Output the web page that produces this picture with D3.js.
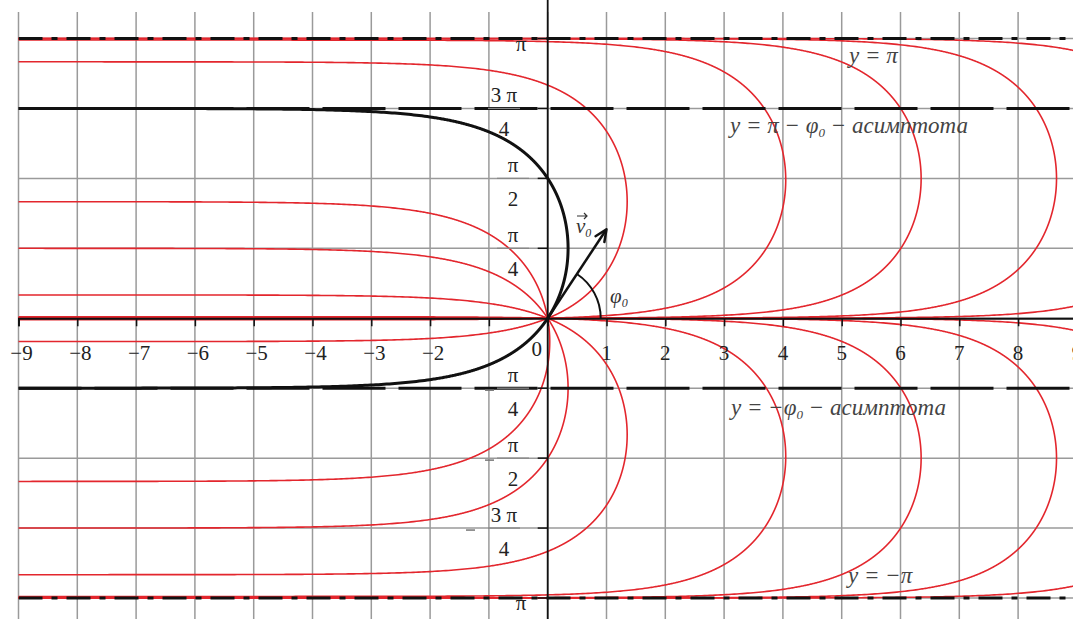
<!DOCTYPE html>
<html><head><meta charset="utf-8">
<script src="https://cdn.jsdelivr.net/npm/d3@7"></script>
<style>
html,body{margin:0;padding:0;background:#fff;}
svg text{font-family:"Liberation Serif","DejaVu Serif",serif;}
</style></head>
<body>
<svg id="c" width="1073" height="619"></svg>
<script>
// ---------- data ----------
const PI = Math.PI;
const SERIF = "Liberation Serif, DejaVu Serif, serif";
const xTickValues = [-9,-8,-7,-6,-5,-4,-3,-2,-1,0,1,2,3,4,5,6,7,8,9];
const xTickLabels = ["−9","−8","−7","−6","−5","−4","−3","−2","","0","1","2","3","4","5","6","7","8","9"];
const yTickValues = [PI, 3*PI/4, PI/2, PI/4, 0, -PI/4, -PI/2, -3*PI/4, -PI];
const yTickNum = ["π","3 π","π","π","0","π","π","3 π","π"];
const yTickDen = [null,"4","2","4",null,"4","2","4",null];
const yTickNeg = [false,false,false,false,false,true,true,true,true];
// initial angles (degrees) of the red family of trajectories
const redPhiDeg = [15, 1, 0.1, 0.01, 0.001, 105, 135, 165, 179, 179.9, 179.99, 179.999];
// highlighted trajectory (black)
const blackPhiDeg = [45];
// horizontal reference lines
const dashDotLines = [PI, -PI];
const asymptoteLines = [3*PI/4, -PI/4];
// velocity vector end (data units)
const v0End = [1, 1];

// ---------- scales ----------
const svg = d3.select("#c");
const x = d3.scaleLinear().domain([-9, 9]).range([18.5, 18.5 + 18*58.8]);
const y = d3.scaleLinear().domain([-PI, PI]).range([598, 38.5]);
const X0 = x(-9), X1 = 1073;

svg.append("defs").append("clipPath").attr("id","clip")
  .append("rect").attr("x", X0).attr("y", 0).attr("width", X1 - X0).attr("height", 619);

// ---------- grid ----------
const grid = svg.append("g").attr("stroke", "#9a9a9a").attr("stroke-width", 1.5);
grid.selectAll("line.v").data(xTickValues).join("line")
  .attr("x1", d => x(d)).attr("x2", d => x(d))
  .attr("y1", y(3.44)).attr("y2", 619);
grid.selectAll("line.h").data(yTickValues).join("line")
  .attr("x1", X0).attr("x2", X1)
  .attr("y1", d => y(d)).attr("y2", d => y(d));

// ---------- curves ----------
function trajectory(phiDeg) {
  const phi = phiDeg * PI / 180;
  const sphi = Math.sin(phi);
  const pts = [];
  const small = d3.range(-13, -1, 0.02).map(k => Math.pow(10, k));
  small.forEach(s => pts.push({t: s, s: s}));
  d3.range(0.1, PI - 0.1, 0.002).forEach(t => pts.push({t: t, s: Math.sin(t)}));
  small.slice().reverse().forEach(u => pts.push({t: PI - u, s: u}));
  return pts.map(p => ({x: Math.log(p.s / sphi), y: p.t - phi}))
            .filter(p => p.x > -9.6 && isFinite(p.x));
}
const line = d3.line().x(d => x(d.x)).y(d => y(d.y));
const curves = svg.append("g").attr("clip-path", "url(#clip)").attr("fill", "none");
curves.selectAll("path.red").data(redPhiDeg).join("path")
  .attr("d", d => line(trajectory(d)))
  .attr("stroke", "#e3262d").attr("stroke-width", 1.6);

// ---------- reference lines ----------
const refs = svg.append("g").attr("clip-path", "url(#clip)");
refs.selectAll("line.dd").data(dashDotLines).join("line")
  .attr("x1", X0).attr("x2", X1).attr("y1", d => y(d)).attr("y2", d => y(d))
  .attr("stroke", "#111").attr("stroke-width", 3).attr("stroke-dasharray", "24,9,6,9");
refs.selectAll("line.as").data(asymptoteLines).join("line")
  .attr("x1", X0).attr("x2", X1).attr("y1", d => y(d)).attr("y2", d => y(d))
  .attr("stroke", "#111").attr("stroke-width", 3).attr("stroke-dasharray", "63,13");

curves.selectAll("path.black").data(blackPhiDeg).join("path")
  .attr("d", d => line(trajectory(d)))
  .attr("stroke", "#111").attr("stroke-width", 3);

// ---------- axes ----------
const xAxis = d3.axisBottom(x).tickValues(xTickValues).tickSize(8).tickFormat("");
const gx = svg.append("g").attr("transform", `translate(0,${y(0)})`).call(xAxis);
gx.select(".domain").attr("stroke", "#111").attr("stroke-width", 1.8);
gx.selectAll(".tick line").attr("stroke", "#111").attr("stroke-width", 1.5);

svg.append("line").attr("x1", x(0)).attr("x2", x(0)).attr("y1", 0).attr("y2", 619)
  .attr("stroke", "#111").attr("stroke-width", 1.8);
svg.append("g").selectAll("line").data(yTickValues.filter(v => v !== 0)).join("line")
  .attr("x1", x(0) - 10).attr("x2", x(0)).attr("y1", d => y(d)).attr("y2", d => y(d))
  .attr("stroke", "#111").attr("stroke-width", 1.5);

// x tick labels
svg.append("g").attr("font-size", 21).attr("font-family", SERIF).attr("fill", "#222")
  .attr("text-anchor", "middle")
  .selectAll("text").data(xTickValues).join("text")
  .attr("x", d => x(d) + (d === 0 ? -11 : d < 0 ? 3 : 0))
  .attr("y", d => d === 0 ? 356 : 360)
  .text((d, i) => xTickLabels[i]);

// y tick labels (stacked fractions)
const yl = svg.append("g").attr("font-size", 21).attr("font-family", SERIF)
  .attr("fill", "#222").attr("text-anchor", "middle");
yTickValues.forEach((v, i) => {
  if (v === 0) return;
  const py = y(v);
  const three = yTickNum[i].length > 1;
  const cx = three ? 504 : 513;
  if (yTickDen[i]) {
    yl.append("text").attr("x", cx).attr("y", py - 6).text(yTickNum[i]);
    yl.append("text").attr("x", cx).attr("y", py + 28).text(yTickDen[i]);
    yl.append("line").attr("x1", cx - 16).attr("x2", cx + 16).attr("y1", py).attr("y2", py)
      .attr("stroke", "#888").attr("stroke-width", 1.3);
    if (yTickNeg[i]) {
      const mx = three ? 470 : 489;
      yl.append("line").attr("x1", mx - 4).attr("x2", mx + 5).attr("y1", py + 2).attr("y2", py + 2)
        .attr("stroke", "#777").attr("stroke-width", 1.5);
    }
  } else {
    yl.append("text").attr("x", 521).attr("y", py + 12).text(yTickNum[i]);
    if (yTickNeg[i]) {
      yl.append("line").attr("x1", 501).attr("x2", 512).attr("y1", py).attr("y2", py)
        .attr("stroke", "#111").attr("stroke-width", 2);
    }
  }
});

// ---------- velocity vector and angle ----------
const ox = x(0), oy = y(0);
const ex = x(v0End[0]), ey = y(v0End[1]);
const ang = Math.atan2(oy - ey, ex - ox);
svg.append("line").attr("x1", ox).attr("y1", oy)
  .attr("x2", ex - 3*Math.cos(ang)).attr("y2", ey + 3*Math.sin(ang))
  .attr("stroke", "#111").attr("stroke-width", 2.5);
const ah = 13, aw = 0.42;
svg.append("path")
  .attr("d", `M${ex},${ey} L${ex - ah*Math.cos(ang - aw)},${ey + ah*Math.sin(ang - aw)} M${ex},${ey} L${ex - ah*Math.cos(ang + aw)},${ey + ah*Math.sin(ang + aw)}`)
  .attr("stroke", "#111").attr("stroke-width", 2.5).attr("fill", "none").attr("stroke-linecap", "round");
const R = 53;
svg.append("path")
  .attr("d", `M${ox + R},${oy} A${R},${R} 0 0 0 ${ox + R*Math.cos(ang)},${oy - R*Math.sin(ang)}`)
  .attr("stroke", "#111").attr("stroke-width", 2).attr("fill", "none");

// phi0 label
const phiT = svg.append("text").attr("x", 610).attr("y", 303).attr("font-size", 21)
  .attr("font-family", SERIF).attr("font-style", "italic").attr("fill", "#333");
phiT.append("tspan").text("φ");
phiT.append("tspan").attr("font-size", 12).attr("dy", 4).text("0");
// v0 label
const vT = svg.append("text").attr("x", 576).attr("y", 233).attr("font-size", 21)
  .attr("font-family", SERIF).attr("font-style", "italic").attr("fill", "#333");
vT.append("tspan").text("v");
vT.append("tspan").attr("font-size", 12).attr("dy", 4).text("0");
svg.append("path").attr("d", "M577,216 L587,216 M584,213 L587,216 L584,219")
  .attr("stroke", "#333").attr("stroke-width", 1.2).attr("fill", "none");

// ---------- annotations ----------
const ann = svg.append("g").attr("font-size", 23).attr("font-family", SERIF)
  .attr("font-style", "italic").attr("fill", "#444");
function annot(tx, ty, parts) {
  const t = ann.append("text").attr("x", tx).attr("y", ty);
  parts.forEach(p => {
    const s = t.append("tspan").text(p.t);
    if (p.sub) s.attr("font-size", 13).attr("dy", 4);
    if (p.up) s.attr("dy", -4);
  });
}
annot(849, 63, [{t: "y = π"}]);
annot(730, 133, [{t: "y = π − φ"}, {t: "0", sub: true}, {t: " − асимптота", up: true}]);
annot(731, 415, [{t: "y = −φ"}, {t: "0", sub: true}, {t: " − асимптота", up: true}]);
annot(848, 583, [{t: "y = −π"}]);
</script>
</body></html>
